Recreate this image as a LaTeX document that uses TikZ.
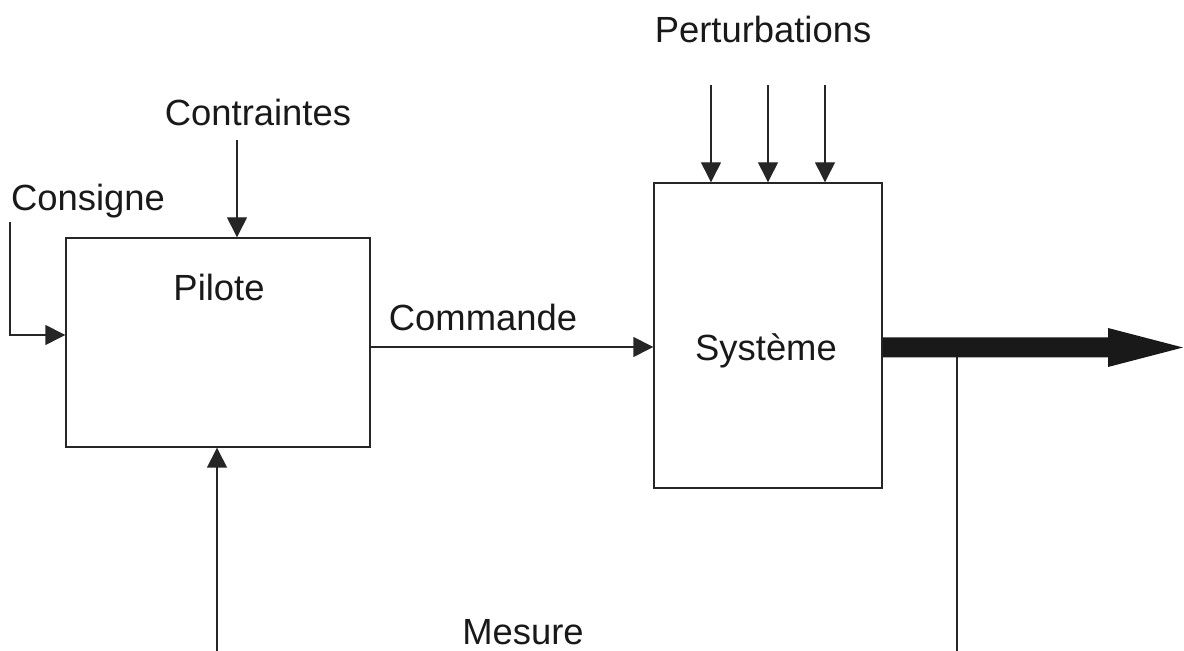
\documentclass[tikz,border=0pt]{standalone}
\usepackage{fontspec}
\setmainfont{Liberation Sans}
\usetikzlibrary{arrows.meta}
\tikzset{
  block/.style={draw=black!85, line width=0.7pt, inner sep=0pt},
  lbl/.style={anchor=base, inner sep=0pt, font=\fontsize{18.2pt}{21pt}\selectfont, text=black!90},
  arr/.style={draw=black!85, line width=0.7pt, -{Triangle[length=10pt,width=10pt]}},
  wire/.style={draw=black!85, line width=0.7pt},
  bigarr/.style={fill=black!90}
}
\begin{document}
\begin{tikzpicture}[x=0.5pt,y=-0.5pt]
  \useasboundingbox (0,0) rectangle (1184,651);

  % blocks
  \node[block, minimum width=152pt, minimum height=104.5pt] (pil) at (218,342.5) {};
  \node[block, minimum width=114pt, minimum height=152.5pt] (sys) at (768,335.5) {};

  % labels
  \node[lbl] (tpil) at (219,301) {Pilote};
  \node[lbl] (tsys) at (766,361) {Système};
  \node[lbl] (tcons) at (88,211) {Consigne};
  \node[lbl] (tcontr) at (258,126) {Contraintes};
  \node[lbl] (tcmd) at (483,331) {Commande};
  \node[lbl] (tpert) at (763,43) {Perturbations};
  \node[lbl] (tmes) at (523,645) {Mesure};

  % free ends
  \coordinate (cons0) at (10,222);
  \coordinate (cons1) at (10,335);
  \coordinate (contr0) at (237,140);
  \coordinate (p1) at (711,85);
  \coordinate (p2) at (768,85);
  \coordinate (p3) at (825,85);
  \coordinate (out) at (1183,347.5);
  \coordinate (fb0) at (957,347);
  \coordinate (fb1) at (957,651);
  \coordinate (mes0) at (217,651);

  % connectors
  \draw[arr] (cons0) -- (cons1) -- (pil.west |- cons1);
  \draw[arr] (contr0) -- (contr0 |- pil.north);
  \draw[arr] (pil.east |- 0,347) -- (sys.west |- 0,347);
  \draw[arr] (p1) -- (p1 |- sys.north);
  \draw[arr] (p2) -- (p2 |- sys.north);
  \draw[arr] (p3) -- (p3 |- sys.north);
  \draw[arr] (mes0) -- (mes0 |- pil.south);
  \draw[wire] (fb0) -- (fb1);

  % thick output arrow
  \fill[bigarr] (sys.east |- 0,337.5) -- (1108,337.5) -- (1108,328) -- (out)
    -- (1108,367) -- (1108,357.5) -- (sys.east |- 0,357.5) -- cycle;
\end{tikzpicture}
\end{document}
